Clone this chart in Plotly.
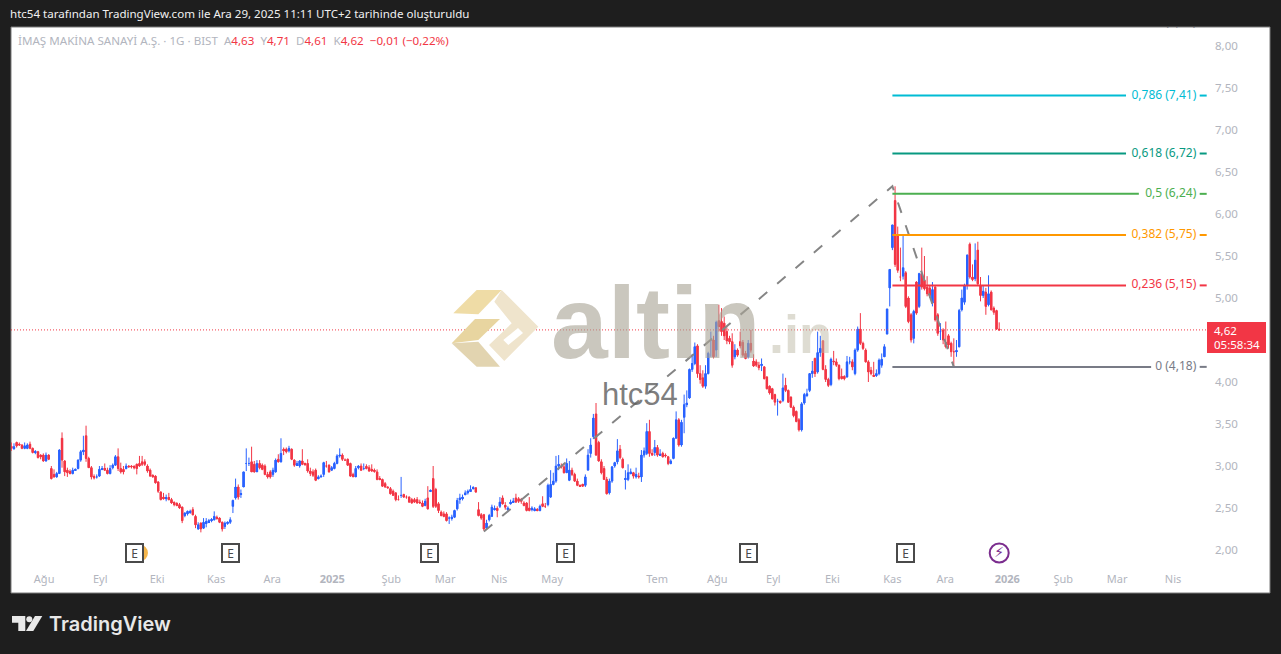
import plotly.graph_objects as go

W, H = 1281, 654
PX0, PXW = 11.3, 2.67          # candle spacing on screen

opens = [
3.23,3.21,3.28,3.26,3.25,3.21,3.21,3.26,3.21,3.16,
3.17,3.13,3.13,3.06,3.13,2.97,2.90,2.87,2.91,3.33,
3.06,2.95,2.93,2.91,2.95,2.97,3.07,3.17,3.36,3.09,
2.98,2.87,2.87,2.88,2.96,2.97,2.95,2.91,2.98,3.01,
3.11,2.97,2.96,2.97,3.00,3.00,2.99,3.02,3.03,3.05,
3.05,3.00,2.95,2.89,2.88,2.81,2.69,2.63,2.61,2.62,
2.60,2.56,2.55,2.54,2.51,2.41,2.43,2.45,2.48,2.40,
2.25,2.32,2.26,2.32,2.33,2.35,2.36,2.39,2.38,2.33,
2.28,2.32,2.33,2.52,2.62,2.75,2.66,2.75,3.03,3.03,
3.05,3.02,2.93,3.03,3.01,3.00,2.90,2.93,2.90,2.93,
3.08,3.05,3.20,3.20,3.18,3.20,3.07,3.01,3.00,3.06,
3.03,3.03,2.94,2.93,2.95,2.85,2.87,2.90,3.00,3.01,
2.95,2.97,3.03,3.12,3.13,3.07,3.08,3.03,2.90,2.87,
2.98,3.00,2.97,2.99,2.98,2.96,2.95,2.93,2.85,2.84,
2.79,2.75,2.73,2.70,2.68,2.60,2.65,2.66,2.63,2.63,
2.60,2.60,2.60,2.57,2.56,2.53,2.62,2.70,2.85,2.72,
2.55,2.45,2.43,2.43,2.38,2.38,2.39,2.49,2.60,2.61,
2.66,2.68,2.70,2.73,2.74,2.48,2.42,2.42,2.26,2.36,
2.40,2.48,2.49,2.52,2.62,2.53,2.48,2.55,2.57,2.62,
2.61,2.60,2.56,2.56,2.50,2.48,2.47,2.48,2.47,2.55,
2.52,2.54,2.63,2.78,2.82,3.00,3.00,2.99,2.92,2.83,
2.95,2.90,2.82,2.77,2.78,2.77,2.95,3.15,3.35,3.62,
3.28,3.05,2.97,2.84,2.68,2.82,3.00,3.05,3.20,3.08,
2.84,2.84,2.91,2.92,2.87,2.88,2.87,3.13,3.15,3.41,
3.15,3.16,3.22,3.13,3.15,3.13,3.11,3.03,3.09,3.33,
3.55,3.25,3.58,3.73,3.81,4.15,4.22,4.43,4.10,4.05,
3.95,4.10,4.50,4.50,4.38,4.73,4.72,4.70,4.60,4.52,
4.48,4.30,4.38,4.48,4.47,4.34,4.30,4.46,4.25,4.24,
4.20,4.20,4.18,4.06,3.95,3.92,3.85,3.77,3.77,3.78,
3.96,3.90,3.82,3.70,3.65,3.55,3.43,3.75,3.84,3.90,
4.10,4.28,4.12,4.35,4.49,4.15,4.03,3.97,4.25,4.24,
4.20,4.06,4.06,4.06,4.24,4.24,4.10,4.38,4.63,4.46,
4.38,4.24,4.14,4.08,4.08,4.10,4.20,4.30,4.57,5.12,
5.60,6.16,5.75,5.25,5.26,5.30,5.00,4.80,4.52,5.19,
4.90,5.29,5.21,5.13,5.12,4.94,5.13,4.80,4.60,4.62,
4.47,4.55,4.46,4.36,4.36,4.42,4.86,4.95,5.15,5.64,
5.25,5.23,5.57,5.15,5.03,5.07,4.92,5.07,4.88,4.85,
4.63]
highs = [
3.28,3.27,3.29,3.28,3.26,3.28,3.27,3.29,3.22,3.19,
3.18,3.14,3.15,3.16,3.14,3.00,2.96,2.93,3.20,3.40,
3.07,2.98,2.96,2.98,2.97,3.08,3.19,3.36,3.48,3.11,
3.00,2.90,2.90,3.00,3.00,3.03,2.98,3.01,3.03,3.13,
3.21,3.04,3.00,3.03,3.01,3.01,3.01,3.03,3.12,3.12,
3.08,3.02,2.97,2.90,2.89,2.82,2.70,2.68,2.66,2.68,
2.62,2.58,2.57,2.56,2.52,2.45,2.47,2.48,2.51,2.42,
2.33,2.33,2.38,2.38,2.37,2.38,2.46,2.41,2.39,2.34,
2.34,2.34,2.39,2.60,2.85,2.78,2.72,2.93,3.21,3.10,
3.23,3.06,3.07,3.07,3.03,3.02,2.93,2.95,2.98,3.09,
3.14,3.33,3.22,3.22,3.24,3.21,3.08,3.06,3.07,3.20,
3.04,3.08,2.98,2.96,2.97,2.89,2.90,3.05,3.06,3.02,
3.00,3.05,3.14,3.21,3.15,3.09,3.09,3.04,2.92,3.00,
3.01,3.03,3.03,3.02,3.01,3.02,2.97,2.96,2.88,2.85,
2.81,2.76,2.75,2.72,2.69,2.65,2.87,2.67,2.65,2.64,
2.62,2.62,2.63,2.60,2.59,2.61,2.76,2.72,3.00,2.74,
2.57,2.47,2.46,2.45,2.40,2.42,2.48,2.62,2.67,2.66,
2.71,2.72,2.77,2.76,2.75,2.57,2.44,2.43,2.36,2.43,
2.54,2.53,2.52,2.63,2.65,2.57,2.52,2.60,2.62,2.67,
2.63,2.62,2.58,2.57,2.63,2.52,2.51,2.50,2.54,2.64,
2.56,2.79,2.95,2.92,3.12,3.13,3.03,3.03,3.09,3.06,
2.98,2.92,2.85,2.78,2.79,2.90,3.20,3.33,3.62,3.75,
3.30,3.08,3.00,2.87,2.85,3.00,3.05,3.32,3.25,3.10,
2.95,3.02,2.97,2.93,2.98,2.92,3.19,3.22,3.51,3.55,
3.20,3.31,3.25,3.20,3.17,3.15,3.12,3.08,3.34,3.65,
3.57,3.55,3.85,3.90,4.16,4.33,4.47,4.45,4.20,4.14,
4.20,4.36,4.60,4.55,4.73,4.92,4.88,4.78,4.65,4.55,
4.58,4.45,4.40,4.60,4.50,4.37,4.50,4.62,4.33,4.27,
4.24,4.28,4.19,4.07,3.96,3.93,3.86,3.80,3.78,4.10,
4.05,3.91,3.83,3.72,3.66,3.57,3.76,3.87,3.92,4.10,
4.25,4.29,4.60,4.55,4.50,4.20,4.05,4.29,4.37,4.28,
4.21,4.16,4.08,4.31,4.30,4.27,4.40,4.66,4.82,4.48,
4.40,4.26,4.18,4.24,4.15,4.28,4.34,4.45,4.87,5.34,
5.87,6.33,5.85,5.60,5.75,5.32,5.02,4.82,4.86,5.20,
5.30,5.60,5.50,5.26,5.15,5.19,5.15,4.82,4.70,4.64,
4.72,4.57,4.48,4.52,4.50,4.87,5.10,5.17,5.52,5.66,
5.40,5.65,5.67,5.25,5.15,5.12,5.27,5.09,4.90,4.86,
4.71]
lows = [
3.18,3.19,3.22,3.24,3.20,3.20,3.20,3.20,3.15,3.14,
3.09,3.08,3.05,3.05,3.07,2.84,2.86,2.86,2.91,2.98,
2.88,2.87,2.90,2.90,2.95,2.96,3.05,3.13,3.05,2.98,
2.84,2.84,2.85,2.87,2.95,2.94,2.90,2.90,2.96,3.00,
2.94,2.91,2.90,2.96,2.98,2.97,2.96,2.90,2.99,3.00,
3.00,2.92,2.87,2.86,2.79,2.68,2.59,2.60,2.58,2.59,
2.55,2.52,2.52,2.49,2.32,2.39,2.41,2.43,2.41,2.26,
2.24,2.21,2.25,2.27,2.32,2.33,2.35,2.36,2.32,2.22,
2.25,2.30,2.31,2.44,2.60,2.60,2.62,2.75,2.94,3.00,
2.93,2.92,2.93,2.96,2.95,2.89,2.85,2.85,2.87,2.92,
3.04,3.04,3.13,3.15,3.16,3.07,2.99,3.00,2.98,3.01,
3.00,2.92,2.88,2.87,2.82,2.84,2.86,2.87,2.98,2.92,
2.94,2.96,3.02,3.10,3.06,3.06,3.00,2.87,2.87,2.87,
2.96,2.94,2.95,2.96,2.93,2.93,2.92,2.83,2.83,2.75,
2.74,2.73,2.66,2.65,2.58,2.59,2.62,2.62,2.61,2.56,
2.55,2.56,2.55,2.55,2.51,2.52,2.48,2.69,2.50,2.50,
2.44,2.40,2.39,2.34,2.31,2.35,2.38,2.47,2.55,2.59,
2.65,2.66,2.69,2.72,2.68,2.40,2.36,2.23,2.25,2.34,
2.40,2.47,2.39,2.50,2.54,2.48,2.45,2.54,2.56,2.56,
2.56,2.55,2.52,2.46,2.46,2.46,2.46,2.46,2.46,2.51,
2.50,2.52,2.62,2.77,2.80,2.95,2.97,2.91,2.93,2.82,
2.88,2.81,2.76,2.75,2.75,2.75,2.95,3.10,3.32,3.12,
3.05,2.90,2.84,2.66,2.66,2.80,2.98,3.02,3.08,2.97,
2.72,2.82,2.90,2.85,2.85,2.85,2.81,3.10,3.13,3.11,
3.12,3.12,3.11,3.12,3.10,3.10,3.01,3.02,3.08,3.33,
3.23,3.23,3.39,3.70,3.80,4.12,4.20,4.05,3.98,3.93,
3.92,4.09,4.30,4.28,4.30,4.60,4.55,4.50,4.45,4.45,
4.17,4.27,4.30,4.40,4.30,4.27,4.28,4.35,4.18,4.18,
4.14,4.13,4.03,3.91,3.85,3.79,3.72,3.60,3.74,3.76,
3.88,3.75,3.69,3.58,3.52,3.41,3.41,3.73,3.82,3.88,
4.05,4.06,4.10,4.30,4.14,4.00,3.94,3.95,4.20,4.18,
4.02,4.03,4.02,4.05,4.21,4.14,4.08,4.36,4.44,4.38,
4.23,4.00,4.08,4.06,4.06,4.08,4.17,4.30,4.57,4.90,
5.57,5.37,5.30,5.20,5.22,4.88,4.70,4.47,4.46,4.80,
4.88,5.10,5.09,5.02,5.00,4.90,4.72,4.55,4.50,4.45,
4.40,4.40,4.30,4.18,4.30,4.41,4.84,4.92,5.10,5.23,
5.20,5.20,5.15,4.96,5.00,4.80,4.90,4.85,4.80,4.62,
4.61]
closes = [
3.21,3.23,3.24,3.25,3.21,3.24,3.25,3.21,3.16,3.17,
3.10,3.11,3.06,3.13,3.08,2.85,2.87,2.91,3.19,3.07,
2.93,2.92,2.91,2.95,2.96,3.07,3.17,3.19,3.09,2.98,
2.87,2.86,2.87,2.96,2.97,2.95,2.91,2.97,3.01,3.11,
2.97,2.93,2.93,3.00,2.99,2.99,2.98,2.97,3.00,3.02,
3.02,2.94,2.88,2.87,2.80,2.70,2.60,2.61,2.62,2.60,
2.56,2.54,2.53,2.50,2.35,2.44,2.46,2.46,2.42,2.30,
2.30,2.25,2.33,2.34,2.35,2.36,2.40,2.38,2.33,2.25,
2.32,2.33,2.36,2.59,2.75,2.63,2.67,2.93,3.03,3.03,
2.93,2.93,3.03,2.98,2.96,2.90,2.87,2.87,2.95,3.07,
3.05,3.15,3.18,3.17,3.21,3.08,3.01,3.03,3.06,3.02,
3.02,2.94,2.91,2.89,2.83,2.87,2.88,3.04,3.00,2.93,
2.98,3.03,3.12,3.13,3.08,3.07,3.01,2.88,2.87,2.97,
3.00,2.95,2.97,2.97,2.94,2.94,2.94,2.84,2.84,2.76,
2.75,2.74,2.67,2.65,2.60,2.60,2.65,2.63,2.63,2.57,
2.56,2.57,2.56,2.56,2.52,2.58,2.49,2.71,2.52,2.52,
2.47,2.41,2.40,2.35,2.38,2.39,2.47,2.59,2.62,2.63,
2.68,2.70,2.72,2.74,2.69,2.41,2.38,2.25,2.32,2.41,
2.51,2.49,2.47,2.57,2.55,2.51,2.50,2.57,2.58,2.57,
2.58,2.58,2.53,2.47,2.47,2.50,2.49,2.47,2.52,2.52,
2.52,2.77,2.78,2.82,3.00,3.02,2.99,2.92,3.03,2.95,
2.90,2.82,2.77,2.76,2.76,2.87,3.13,3.25,3.57,3.13,
3.06,2.92,2.84,2.67,2.82,2.99,3.04,3.18,3.10,2.98,
2.85,2.92,2.93,2.88,2.90,2.87,3.13,3.18,3.41,3.15,
3.13,3.22,3.13,3.14,3.11,3.12,3.03,3.06,3.33,3.55,
3.25,3.52,3.73,3.75,4.15,4.22,4.42,4.10,4.03,3.95,
4.10,4.34,4.50,4.30,4.71,4.66,4.60,4.55,4.49,4.48,
4.20,4.38,4.32,4.43,4.32,4.28,4.46,4.38,4.19,4.20,
4.17,4.21,4.04,3.92,3.87,3.80,3.76,3.77,3.76,3.93,
3.90,3.76,3.70,3.60,3.53,3.43,3.74,3.85,3.86,4.10,
4.13,4.10,4.35,4.40,4.15,4.03,3.96,4.27,4.24,4.20,
4.04,4.04,4.04,4.24,4.24,4.18,4.38,4.63,4.46,4.40,
4.24,4.12,4.10,4.07,4.10,4.26,4.27,4.42,4.87,5.34,
5.87,5.40,5.33,5.25,5.36,4.90,4.72,4.50,4.84,4.82,
5.29,5.13,5.11,5.05,5.03,5.10,4.74,4.58,4.60,4.50,
4.42,4.44,4.36,4.36,4.37,4.85,5.00,5.15,5.51,5.25,
5.22,5.45,5.17,5.03,5.08,4.90,5.05,4.86,4.83,4.63,
4.62]

month_labels = ["Ağu","Eyl","Eki","Kas","Ara","<b>2025</b>","Şub","Mar","Nis","May",
                "Tem","Ağu","Eyl","Eki","Kas","Ara","<b>2026</b>","Şub","Mar","Nis"]
month_bars = [12.3,33.3,54.6,76.7,97.7,120.2,142.3,162.5,182.7,202.6,
              241.9,264.4,285.4,307.5,330,349.8,373,394,414.2,435.1]

fib_ratios = ["1","0,786","0,618","0,5","0,382","0,236","0"]
fib_prices = [8.29,7.41,6.72,6.24,5.75,5.15,4.18]
fib_colors = ["#787b86","#00bcd4","#089981","#4caf50","#ff9800","#f23645","#787b86"]
fib_line_end = [417.5,417.5,417.5,422.3,417.5,417.5,426.9]
fib_label_end = 443.8
fib_tick_bar = 446.4
fib_start_bar = 330

swing_bars = [177,330,353]
swing_prices = [2.22,6.33,4.18]

event_e_bars = [46,82,156.5,207.6,276.2,334.8]
event_price = 1.964
dividend_bar = 48.0
split_bar = 370

last_price = 4.62
y_ticks = [2,2.5,3,3.5,4,5,5.5,6,6.5,7,7.5,8]

BLUE, RED = "#2962ff", "#f23645"
PANEL_L, PANEL_T, PANEL_R, PANEL_B = 11, 27, 1270, 593
PLOT_R, PLOT_B = 1207, 567
XMAX = (PLOT_R - PX0) / PXW
XMIN = (PANEL_L - PX0) / PXW
FONT = "Noto Sans"

def fx(px):
    return (px - PANEL_L) / (PLOT_R - PANEL_L)
def fy(py):
    return 1 - (py - PANEL_T) / (PLOT_B - PANEL_T)
def poly(points, color, opacity=1.0, layer="above"):
    path = "M " + " L ".join(f"{fx(x):.5f},{fy(y):.5f}" for x, y in points) + " Z"
    return dict(type="path", xref="paper", yref="paper", path=path, fillcolor=color,
                line=dict(width=0), opacity=opacity, layer=layer)

fig = go.Figure()
bars = list(range(len(closes)))
# bodies as bars for a 2 to 3 px body, wicks from the candlestick trace
fig.add_trace(go.Bar(
    x=bars, base=opens, y=[c - o for o, c in zip(opens, closes)], width=0.85,
    marker=dict(color=[BLUE if c >= o else RED for o, c in zip(opens, closes)], line=dict(width=0)),
    hoverinfo="skip", showlegend=False))
fig.add_trace(go.Candlestick(
    x=bars, open=opens, high=highs, low=lows, close=closes,
    increasing=dict(line=dict(color=BLUE, width=1), fillcolor=BLUE),
    decreasing=dict(line=dict(color=RED, width=1), fillcolor=RED),
    whiskerwidth=0, showlegend=False, hoverinfo="skip"))

# last price line
fig.add_trace(go.Scatter(x=[XMIN, XMAX], y=[last_price, last_price], mode="lines",
    line=dict(color=RED, width=1, dash="1px 2px"), hoverinfo="skip", showlegend=False))

# swing dashed line
fig.add_trace(go.Scatter(x=swing_bars, y=swing_prices, mode="lines",
    line=dict(color="#858585", width=2, dash="11px 13px"), hoverinfo="skip", showlegend=False))

# fib levels
for ratio, price, color, end in zip(fib_ratios, fib_prices, fib_colors, fib_line_end):
    fig.add_trace(go.Scatter(x=[fib_start_bar, end], y=[price, price], mode="lines",
        line=dict(color=color, width=2), hoverinfo="skip", showlegend=False))
    # level 1 sits above the panel: only the foot of its label shows at the top edge
    over = price > 8.2
    fig.add_trace(go.Scatter(x=[fib_label_end], y=[8.205 if over else price], mode="text",
        text=[f"{ratio} ({price:.2f})".replace(".", ",")],
        textposition="top left" if over else "middle left",
        textfont=dict(color=color, size=12, family=FONT), cliponaxis=True,
        hoverinfo="skip", showlegend=False))
    fig.add_trace(go.Scatter(x=[fib_tick_bar], y=[price], mode="markers",
        marker=dict(symbol="line-ew", size=5, line=dict(color=color, width=2)),
        hoverinfo="skip", showlegend=False))

# dividend dot behind first E
fig.add_trace(go.Scatter(x=[dividend_bar], y=[event_price], mode="markers",
    marker=dict(size=17, color="#f5b64c"), hoverinfo="skip", showlegend=False))
fig.add_trace(go.Scatter(x=[split_bar], y=[event_price], mode="markers+text",
    marker=dict(size=19, color="white", line=dict(color="#7b2d8e", width=2)),
    text=["⚡"], textposition="middle center",
    textfont=dict(color="#7b2d8e", size=14, family="DejaVu Sans"),
    hoverinfo="skip", showlegend=False))

shapes = [
    dict(type="rect", xref="paper", yref="paper", x0=fx(PANEL_L), x1=fx(PANEL_R),
         y0=fy(PANEL_B), y1=fy(PANEL_T), fillcolor="white",
         line=dict(color="#7a7a7a", width=1), layer="below"),
    # watermark logo
    poly([(453.3,313.3),(476.7,290),(501.7,290),(478.3,314.3)], "#efdca6"),
    poly([(501.7,290),(538.3,326.7),(504.3,361),(489,345),(511.7,323.3),(494.3,301.7)], "#efe4cc"),
    poly([(503.3,340),(518,328),(523,333),(508.3,345)], "#ffffff"),
    poly([(475,319),(500,319),(478.3,340),(451.7,343.3)], "#e8d5a0"),
    poly([(451.7,343.3),(478.3,341.7),(500,366.7),(476.7,366.7)], "#e2d4b0"),
    # price box
    poly([(1207,322),(1266,322),(1266,353),(1207,353)], RED),
    # TradingView logo
    poly([(12,616),(25.3,616),(25.3,631),(18.3,631),(18.3,622.7),(12,622.7)], "#e8e8e8"),
    poly([(42.3,616),(33.3,631),(26,631),(35,616)], "#e8e8e8"),
    dict(type="circle", xref="paper", yref="paper", x0=fx(26.3), x1=fx(32.3),
         y0=fy(622.3), y1=fy(616.3), fillcolor="#e8e8e8", line=dict(width=0)),
]

GR = "#b2b5be"
legend_text = (f"<span style='color:{GR}'>İMAŞ MAKİNA SANAYİ A.Ş. · 1G · BIST  A</span>"
               f"<span style='color:{RED}'>4,63</span>  <span style='color:{GR}'>Y</span>"
               f"<span style='color:{RED}'>4,71</span>  <span style='color:{GR}'>D</span>"
               f"<span style='color:{RED}'>4,61</span>  <span style='color:{GR}'>K</span>"
               f"<span style='color:{RED}'>4,62</span>  <span style='color:{RED}'>−0,01 (−0,22%)</span>")

def note(px, py, text, **font):
    return dict(xref="paper", yref="paper", x=fx(px), y=fy(py), xanchor="left", yanchor="middle",
                text=text, showarrow=False, font=font)

annotations = [
    note(8, 14, "htc54 tarafından TradingView.com ile Ara 29, 2025 11:11 UTC+2 tarihinde oluşturuldu",
         color="#f0f0f0", size=11.55, family=FONT),
    note(16, 41, legend_text, size=11.6, family=FONT),
    note(47, 624, "TradingView", color="#e8e8e8", size=20, family="Inter", weight=600),
    note(549, 323, "<b>altin</b>", color="rgba(170,165,150,0.62)", size=102, family="Liberation Sans"),
    note(767, 334, "<b>.in</b>", color="rgba(190,185,165,0.5)", size=54, family="Liberation Sans"),
    note(600, 394, "htc54", color="rgba(90,90,90,0.8)", size=31, family="Liberation Sans"),
    note(1212, 330, "4,62", color="white", size=11.5, family=FONT),
    note(1212, 344, "05:58:34", color="white", size=11.5, family=FONT),
]
for b in event_e_bars:
    annotations.append(dict(xref="x", yref="y", x=b, y=event_price, text="E", showarrow=False,
        bgcolor="white", bordercolor="#4a4a4a", borderwidth=2, width=15, height=16, borderpad=0,
        font=dict(color="#4a4a4a", size=12, family=FONT)))

fig.update_layout(
    width=W, height=H, autosize=False,
    paper_bgcolor="#1e1e1e", plot_bgcolor="white",
    margin=dict(l=PANEL_L, r=W - PLOT_R, t=PANEL_T, b=H - PLOT_B, pad=0),
    separators=",.",
    showlegend=False, hovermode=False, barmode="overlay",
    shapes=shapes, annotations=annotations,
    xaxis=dict(range=[XMIN, XMAX], tickmode="array", tickvals=month_bars, ticktext=month_labels,
               showgrid=False, zeroline=False, showline=False, ticks="", rangeslider=dict(visible=False),
               tickfont=dict(color=GR, size=11, family=FONT), ticklabelstandoff=4),
    yaxis=dict(range=[(718 - PLOT_B) / 84, (718 - PANEL_T) / 84], side="right", tickmode="array",
               tickvals=y_ticks, tickformat=".2f", showgrid=False, zeroline=False, showline=False,
               ticks="", tickfont=dict(color=GR, size=11.5, family=FONT), ticklabelstandoff=7),
)

fig.write_html("out.html", config={"displayModeBar": False},
               post_script="document.body.style.margin='0';document.body.style.overflow='hidden';")
